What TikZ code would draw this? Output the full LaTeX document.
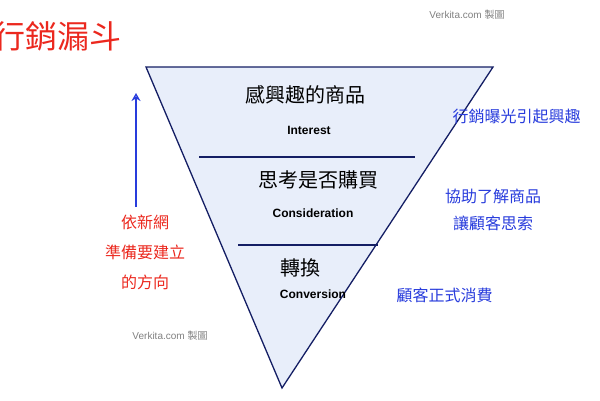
\documentclass[tikz,border=0pt]{standalone}
\usepackage{fontspec}
\setmainfont{Liberation Sans}
\newfontfamily\cjk{Noto Sans CJK TC}
\usetikzlibrary{arrows.meta}
\definecolor{funnelfill}{RGB}{232,238,250}
\definecolor{funneledge}{RGB}{20,30,100}
\definecolor{inkblue}{RGB}{40,60,220}
\definecolor{inkred}{RGB}{235,40,30}
\tikzset{
  stage/.style={font=\cjk\fontsize{20}{20}\selectfont},
  stagename/.style={font=\bfseries\fontsize{12}{12}\selectfont},
  note/.style={font=\cjk\fontsize{16}{27}\selectfont,text=inkblue,align=center},
  side/.style={font=\cjk\fontsize{16}{30}\selectfont,text=inkred,align=center},
  watermark/.style={font=\fontsize{10}{10}\selectfont,text=gray}
}
\begin{document}
\begin{tikzpicture}[x=1pt,y=-1pt]
\useasboundingbox (0,0) rectangle (600,400);
\clip (0,0) rectangle (600,400);
% funnel
\coordinate (tl) at (146,67);
\coordinate (tr) at (493,67);
\coordinate (bt) at (282,388);
\draw[funneledge,line width=1.3pt,fill=funnelfill] (tl) -- (tr) -- (bt) -- cycle;
\draw[funneledge,line width=1.3pt] (199,157) -- (415,157);
\draw[funneledge,line width=1.3pt] (238,245) -- (378,245);

\node[stage] (s1) at (305,95) {感興趣的商品};
\node[stagename] (l1) at (309,130) {Interest};
\node[stage] (s2) at (318,180) {思考是否購買};
\node[stagename] (l2) at (313,213) {Consideration};
\node[stage] (s3) at (300,268) {轉換};
\node[stagename] (l3) at (313,294) {Conversion};

% notes
\node[note,anchor=west] (n1) at (449,116) {行銷曝光引起興趣};
\node[note] (n2) at (493,210) {協助了解商品\\讓顧客思索};
\node[note,anchor=west] (n3) at (393,295) {顧客正式消費};

\node[side] (sd) at (145,252) {依新網\\準備要建立\\的方向};
\coordinate (up) at (136,93);
\coordinate (dn) at (136,207);
\draw[inkblue,line width=1.3pt,-{Stealth[length=8pt,width=9pt,open]}] (dn) -- (up);

\node[font=\cjk\fontsize{32}{32}\selectfont,text=inkred,anchor=west] (title) at (-10,36) {行銷漏斗};
\node[watermark] (m1) at (467,15) {Verkita.com {\cjk 製圖}};
\node[watermark] (m2) at (170,336) {Verkita.com {\cjk 製圖}};
\end{tikzpicture}
\end{document}
